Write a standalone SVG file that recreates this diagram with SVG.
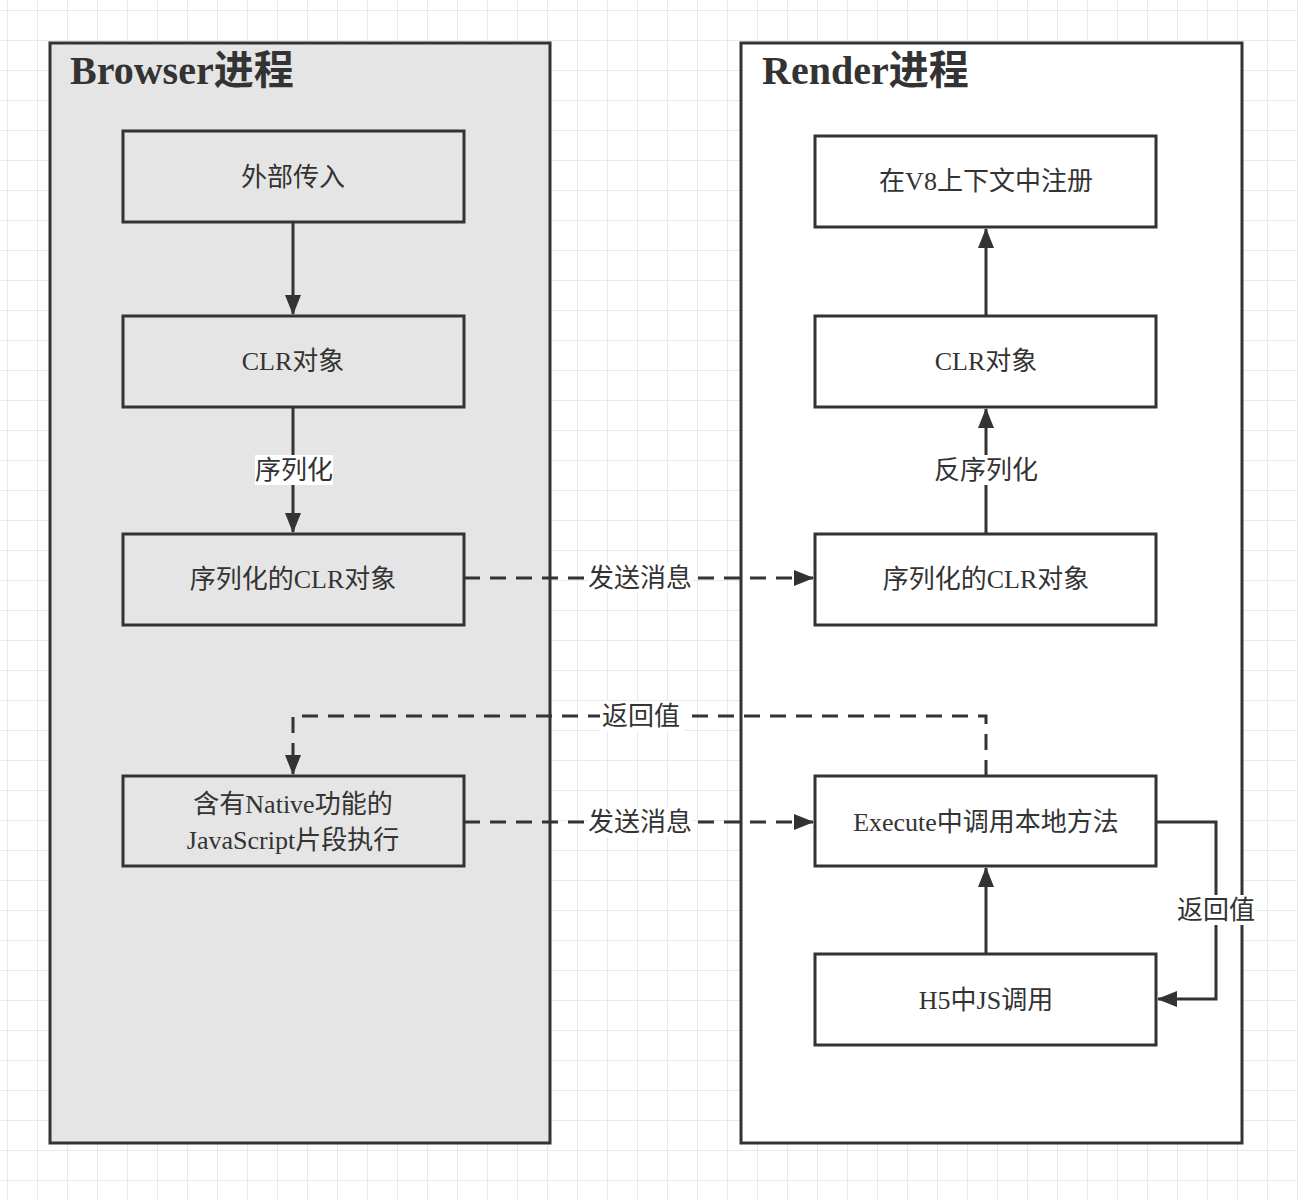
<svg xmlns="http://www.w3.org/2000/svg" width="1298" height="1200" viewBox="0 0 1298 1200">
<defs>
<pattern id="grid" x="7" y="10" width="30" height="30" patternUnits="userSpaceOnUse">
<path d="M0 0H30M0 0V30" fill="none" stroke="#e9e9e9" stroke-width="2"/>
</pattern>
<marker id="arr" viewBox="0 0 20 16" refX="19" refY="8" markerWidth="20" markerHeight="16" markerUnits="userSpaceOnUse" orient="auto">
<path d="M0 0L20 8L0 16Z" fill="#333"/>
</marker>
</defs>
<style>
.cont{stroke:#333;stroke-width:3}
.node{stroke:#333;stroke-width:3}
.t{font-family:"Liberation Serif","Noto Sans CJK SC",serif;font-size:26px;fill:#333;text-anchor:middle}
.title{font-family:"Liberation Serif","Noto Sans CJK SC",serif;font-size:40px;font-weight:bold;fill:#333}
.ln{fill:none;stroke:#333;stroke-width:3}
.dash{stroke-dasharray:16 10}
.lbl{fill:#fff}
</style>
<rect width="1298" height="1200" fill="#fff"/>
<rect width="1298" height="1200" fill="url(#grid)"/>

<g id="browser">
<rect class="cont" x="50" y="43" width="500" height="1100" fill="#e5e5e5"/>
<text class="title" x="70" y="84">Browser进程</text>
</g>
<g id="render">
<rect class="cont" x="741" y="43" width="501" height="1100" fill="#fff"/>
<text class="title" x="762" y="84">Render进程</text>
</g>

<g id="b1"><rect class="node" x="123" y="131" width="341" height="91" fill="#e5e5e5"/><text class="t" x="293" y="186">外部传入</text></g>
<g id="b2"><rect class="node" x="123" y="316" width="341" height="91" fill="#e5e5e5"/><text class="t" x="293" y="370">CLR对象</text></g>
<g id="b3"><rect class="node" x="123" y="534" width="341" height="91" fill="#e5e5e5"/><text class="t" x="293" y="588">序列化的CLR对象</text></g>
<g id="b4"><rect class="node" x="123" y="776" width="341" height="90" fill="#e5e5e5"/><text class="t" x="293" y="813">含有Native功能的</text><text class="t" x="293" y="849">JavaScript片段执行</text></g>

<g id="r1"><rect class="node" x="815" y="136" width="341" height="91" fill="#fff"/><text class="t" x="986" y="190">在V8上下文中注册</text></g>
<g id="r2"><rect class="node" x="815" y="316" width="341" height="91" fill="#fff"/><text class="t" x="986" y="370">CLR对象</text></g>
<g id="r3"><rect class="node" x="815" y="534" width="341" height="91" fill="#fff"/><text class="t" x="986" y="588">序列化的CLR对象</text></g>
<g id="r4"><rect class="node" x="815" y="776" width="341" height="90" fill="#fff"/><text class="t" x="986" y="831">Execute中调用本地方法</text></g>
<g id="r5"><rect class="node" x="815" y="954" width="341" height="91" fill="#fff"/><text class="t" x="986" y="1009">H5中JS调用</text></g>

<g id="connectors">
<path class="ln" d="M293 222V314" marker-end="url(#arr)"/>
<path class="ln" d="M293 407V532" marker-end="url(#arr)"/>
<rect class="lbl" x="255" y="455" width="78" height="30"/>
<text class="t" x="294" y="479">序列化</text>

<path class="ln dash" d="M464 578H813" marker-end="url(#arr)"/>
<rect class="lbl" x="588" y="563" width="104" height="30"/>
<text class="t" x="640" y="587">发送消息</text>

<path class="ln" d="M986 534V409" marker-end="url(#arr)"/>
<rect class="lbl" x="933" y="455" width="106" height="30"/>
<text class="t" x="986" y="479">反序列化</text>

<path class="ln" d="M986 316V229" marker-end="url(#arr)"/>

<path class="ln dash" d="M986 776V716H293V774" marker-end="url(#arr)"/>
<rect class="lbl" x="600" y="701" width="84" height="30"/>
<text class="t" x="641" y="725">返回值</text>

<path class="ln dash" d="M464 822H813" marker-end="url(#arr)"/>
<rect class="lbl" x="588" y="807" width="104" height="30"/>
<text class="t" x="640" y="831">发送消息</text>

<path class="ln" d="M1156 822H1216V999H1158" marker-end="url(#arr)"/>
<rect class="lbl" x="1177" y="895" width="78" height="30"/>
<text class="t" x="1216" y="919">返回值</text>

<path class="ln" d="M986 954V868" marker-end="url(#arr)"/>
</g>
</svg>
